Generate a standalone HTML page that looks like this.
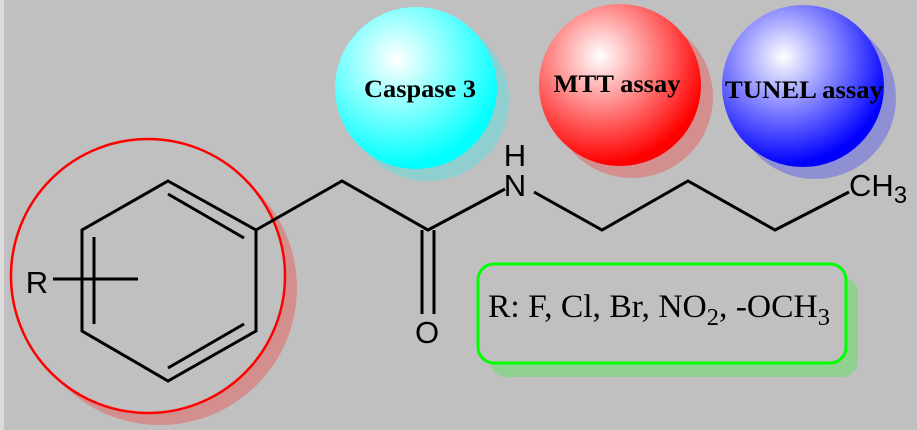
<!DOCTYPE html>
<html><head><meta charset="utf-8"><style>
html,body{margin:0;padding:0;background:#c0c0c0;}
svg{display:block;}
</style></head><body>
<svg width="917" height="430" viewBox="0 0 917 430" xmlns="http://www.w3.org/2000/svg">
<defs>
<radialGradient id="gc" cx="0.38" cy="0.32" r="0.7"><stop offset="0" stop-color="#ffffff"/><stop offset="0.95" stop-color="#00ffff"/></radialGradient>
<radialGradient id="gr" cx="0.38" cy="0.32" r="0.7"><stop offset="0" stop-color="#ffffff"/><stop offset="0.95" stop-color="#ff0000"/></radialGradient>
<radialGradient id="gb" cx="0.38" cy="0.32" r="0.7"><stop offset="0" stop-color="#ffffff"/><stop offset="0.95" stop-color="#0000ff"/></radialGradient>
</defs>
<rect width="917" height="430" fill="#c0c0c0"/>
<rect x="0" y="0" width="4" height="430" fill="#dcdcdc"/>
<circle cx="160" cy="288" r="137" fill="#d38e8e"/>
<circle cx="148" cy="276" r="137" fill="#c0c0c0" stroke="#ff0000" stroke-width="2.5"/>
<circle cx="428" cy="100" r="81" fill="#8fcfcf"/>
<circle cx="416" cy="88" r="81" fill="url(#gc)"/>
<circle cx="632" cy="97" r="81" fill="#d38e8e"/>
<circle cx="620" cy="85" r="81" fill="url(#gr)"/>
<circle cx="815" cy="98" r="81" fill="#8f8fd3"/>
<circle cx="803" cy="86" r="81" fill="url(#gb)"/>
<g font-family="Liberation Serif, serif" font-weight="bold" font-size="25" fill="#000">
<text x="420" y="97" text-anchor="middle" textLength="112" lengthAdjust="spacingAndGlyphs">Caspase 3</text>
<text x="617" y="92" text-anchor="middle" textLength="127" lengthAdjust="spacingAndGlyphs">MTT assay</text>
<text x="804" y="98" text-anchor="middle" textLength="158" lengthAdjust="spacingAndGlyphs">TUNEL assay</text>
</g>
<rect x="490" y="277" width="368" height="100" rx="16" fill="#90d090"/>
<rect x="478" y="264" width="368" height="99" rx="16" fill="#c0c0c0" stroke="#00ff00" stroke-width="3"/>
<text x="488" y="317" font-family="Liberation Serif, serif" font-size="33" fill="#000" textLength="342" lengthAdjust="spacingAndGlyphs">R: F, Cl, Br, NO<tspan font-size="24" dy="8">2</tspan><tspan dy="-8">, -OCH</tspan><tspan font-size="24" dy="8">3</tspan></text>
<g stroke="#000" stroke-width="3" fill="none" stroke-linecap="butt">
<polygon points="168,181 256,230 256,331 168,381 82,331 82,230"/>
<line x1="94" y1="237" x2="94" y2="324"/>
<line x1="168" y1="194" x2="244" y2="238"/>
<line x1="168" y1="368" x2="244" y2="324"/>
<line x1="53" y1="279" x2="138" y2="279"/>
<polyline points="256,230 342,181 428,230 505,189"/>
<line x1="422" y1="230" x2="422" y2="314"/>
<line x1="434" y1="230" x2="434" y2="314"/>
<polyline points="534,192 602,230 688,181 775,230 849,192"/>
</g>
<g font-family="Liberation Sans, sans-serif" font-size="31" fill="#000">
<text x="37" y="293" text-anchor="middle">R</text>
<text x="427" y="343" text-anchor="middle">O</text>
<text x="515" y="196" text-anchor="middle">N</text>
<text x="515" y="166" text-anchor="middle">H</text>
<text x="849" y="196">CH<tspan font-size="24" dy="7">3</tspan></text>
</g>
</svg>
</body></html>
